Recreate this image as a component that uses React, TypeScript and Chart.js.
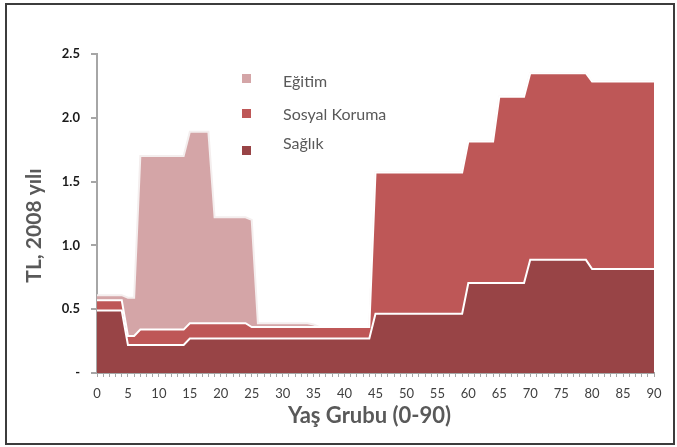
import React, { useEffect, useRef } from "react";
import { Chart, registerables } from "chart.js";

Chart.register(...registerables);

// Age categories 0..90
const ages: number[] = Array.from({ length: 91 }, (_, i) => i);

// Sağlık (bottom layer), values per age 0..90
const saglik: number[] = [
  0.49, 0.49, 0.49, 0.49, 0.49, 0.22, 0.22, 0.22, 0.22, 0.22,
  0.22, 0.22, 0.22, 0.22, 0.22, 0.27, 0.27, 0.27, 0.27, 0.27,
  0.27, 0.27, 0.27, 0.27, 0.27, 0.27, 0.27, 0.27, 0.27, 0.27,
  0.27, 0.27, 0.27, 0.27, 0.27, 0.27, 0.27, 0.27, 0.27, 0.27,
  0.27, 0.27, 0.27, 0.27, 0.27, 0.465, 0.465, 0.465, 0.465, 0.465,
  0.465, 0.465, 0.465, 0.465, 0.465, 0.465, 0.465, 0.465, 0.465, 0.465,
  0.705, 0.705, 0.705, 0.705, 0.705, 0.705, 0.705, 0.705, 0.705, 0.705,
  0.887, 0.887, 0.887, 0.887, 0.887, 0.887, 0.887, 0.887, 0.887, 0.887,
  0.815, 0.815, 0.815, 0.815, 0.815, 0.815, 0.815, 0.815, 0.815, 0.815,
  0.815,
];

// Sosyal Koruma (middle layer)
const sosyalKoruma: number[] = [
  0.08, 0.08, 0.08, 0.08, 0.08, 0.07, 0.07, 0.12, 0.12, 0.12,
  0.12, 0.12, 0.12, 0.12, 0.12, 0.12, 0.12, 0.12, 0.12, 0.12,
  0.12, 0.12, 0.12, 0.12, 0.12, 0.09, 0.09, 0.09, 0.09, 0.09,
  0.09, 0.09, 0.09, 0.09, 0.09, 0.09, 0.09, 0.09, 0.09, 0.09,
  0.09, 0.09, 0.09, 0.09, 0.09, 1.106, 1.106, 1.106, 1.106, 1.106,
  1.106, 1.106, 1.106, 1.106, 1.106, 1.106, 1.106, 1.106, 1.106, 1.106,
  1.11, 1.11, 1.11, 1.11, 1.11, 1.46, 1.46, 1.46, 1.46, 1.46,
  1.463, 1.463, 1.463, 1.463, 1.463, 1.463, 1.463, 1.463, 1.463, 1.463,
  1.469, 1.469, 1.469, 1.469, 1.469, 1.469, 1.469, 1.469, 1.469, 1.469,
  1.469,
];

// Eğitim (top layer)
const egitim: number[] = [
  0.04, 0.04, 0.04, 0.04, 0.04, 0.3, 0.3, 1.36, 1.36, 1.36,
  1.36, 1.36, 1.36, 1.36, 1.36, 1.5, 1.5, 1.5, 1.5, 0.83,
  0.83, 0.83, 0.83, 0.83, 0.83, 0.84, 0.03, 0.03, 0.03, 0.03,
  0.03, 0.03, 0.03, 0.03, 0.03, 0.02, 0, 0, 0, 0,
  0, 0, 0, 0, 0, 0, 0, 0, 0, 0,
  0, 0, 0, 0, 0, 0, 0, 0, 0, 0,
  0, 0, 0, 0, 0, 0, 0, 0, 0, 0,
  0, 0, 0, 0, 0, 0, 0, 0, 0, 0,
  0, 0, 0, 0, 0, 0, 0, 0, 0, 0,
  0,
];

const yTicks: number[] = [0, 0.5, 1.0, 1.5, 2.0, 2.5];

const X_TITLE = "Yaş Grubu (0-90)";
const Y_TITLE = "TL, 2008 yılı";

const COLORS = {
  egitim: "#D4A5A7",
  sosyal: "#BE5757",
  saglik: "#984446",
};

const legendItems = [
  { label: "Eğitim", color: COLORS.egitim },
  { label: "Sosyal Koruma", color: COLORS.sosyal },
  { label: "Sağlık", color: COLORS.saglik },
];

const annotationPlugin = {
  id: "insideLegendAndTitles",
  afterDraw(chart: any) {
    const ctx = chart.ctx;
    const area = chart.chartArea;
    ctx.save();
    // legend
    const markerX = 242;
    const textX = 283;
    const markerYs = [74, 109, 146];
    const textYs = [82, 115, 144];
    legendItems.forEach((it, i) => {
      ctx.fillStyle = it.color;
      ctx.fillRect(markerX, markerYs[i], 9, 9);
      ctx.fillStyle = "#595959";
      ctx.font = "16px Lato";
      ctx.textBaseline = "middle";
      ctx.textAlign = "left";
      ctx.fillText(it.label, textX, textYs[i]);
    });
    // x title
    ctx.fillStyle = "#595959";
    ctx.font = "bold 22px Lato";
    ctx.textAlign = "center";
    ctx.textBaseline = "middle";
    ctx.fillText(X_TITLE, (area.left + area.right) / 2 - 6, 416);
    // y title
    ctx.translate(34, (area.top + area.bottom) / 2 + 12);
    ctx.rotate(-Math.PI / 2);
    ctx.font = "bold 21px Lato";
    ctx.fillText(Y_TITLE, 0, 0);
    ctx.restore();
  },
};

export default function App() {
  const ref = useRef<HTMLCanvasElement | null>(null);
  useEffect(() => {
    document.body.style.margin = "0";
    if (!ref.current) return;
    const chart = new Chart(ref.current, {
      type: "line",
      data: {
        labels: ages,
        datasets: [
          {
            label: "Sağlık",
            data: saglik,
            backgroundColor: COLORS.saglik,
            borderColor: "#ffffff",
            borderWidth: 2,
            fill: "origin",
            pointRadius: 0,
            tension: 0,
          },
          {
            label: "Sosyal Koruma",
            data: sosyalKoruma,
            backgroundColor: COLORS.sosyal,
            borderColor: "#ffffff",
            borderWidth: 2,
            fill: "-1",
            pointRadius: 0,
            tension: 0,
          },
          {
            label: "Eğitim",
            data: egitim,
            backgroundColor: COLORS.egitim,
            borderColor: "#f4eeee",
            borderWidth: 2,
            fill: "-1",
            pointRadius: 0,
            tension: 0,
          },
        ],
      },
      options: {
        responsive: false,
        animation: false,
        layout: { padding: { top: 54, right: 23, left: 0, bottom: 0 } },
        plugins: { legend: { display: false }, tooltip: { enabled: false } },
        scales: {
          x: {
            type: "category",
            grid: {
              display: true,
              drawOnChartArea: false,
              drawTicks: true,
              tickLength: 4,
              color: "#a6a6a6",
              lineWidth: 1,
            },
            border: { display: true, color: "#a6a6a6", width: 2 },
            ticks: {
              autoSkip: false,
              maxRotation: 0,
              minRotation: 0,
              padding: 9,
              color: "#404040",
              font: { family: "Lato", size: 13 },
              callback: (_v: any, i: number) => (ages[i] % 5 === 0 ? String(ages[i]) : ""),
            },
            title: { display: false },
            afterFit: (s: any) => {
              s.height = 74;
            },
          },
          y: {
            stacked: true,
            min: 0,
            max: 2.5,
            afterBuildTicks: (s: any) => {
              s.ticks = yTicks.map((v) => ({ value: v }));
            },
            grid: {
              display: true,
              drawOnChartArea: false,
              drawTicks: true,
              tickLength: 6,
              color: "#a6a6a6",
              lineWidth: 2,
            },
            border: { display: true, color: "#a6a6a6", width: 2 },
            ticks: {
              padding: 11,
              color: "#1a1a1a",
              font: { family: "Lato", size: 13, weight: "bold" },
              callback: (v: any) => (Number(v) === 0 ? "-" : Number(v).toFixed(1)),
            },
            title: { display: false },
            afterFit: (s: any) => {
              s.width = 97;
            },
          },
        },
      },
      plugins: [annotationPlugin],
    });
    return () => chart.destroy();
  }, []);

  return (
    <div style={{ position: "relative", width: 677, height: 447, background: "#fff" }}>
      <canvas ref={ref} width={677} height={447} style={{ display: "block" }} />
      <div
        style={{
          position: "absolute",
          left: 5,
          top: 3,
          width: 670,
          height: 442,
          boxSizing: "border-box",
          border: "2px solid #3c3c3c",
          pointerEvents: "none",
        }}
      />
    </div>
  );
}
